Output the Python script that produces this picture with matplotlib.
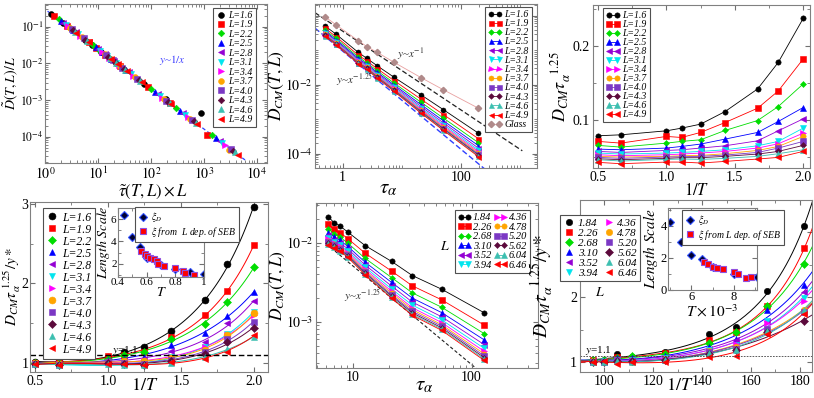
import numpy as np
import matplotlib
matplotlib.use('Agg')
import matplotlib.pyplot as plt
from matplotlib.ticker import (FixedLocator, FuncFormatter, LogLocator,
                               MultipleLocator, NullFormatter)

plt.rcParams['font.family'] = ['Liberation Serif', 'DejaVu Serif']
plt.rcParams['mathtext.fontset'] = 'stix'
for a in ('xtick', 'ytick'):
    plt.rcParams[a + '.direction'] = 'in'
    plt.rcParams[a + '.color'] = '#707070'
    plt.rcParams[a + '.labelcolor'] = 'black'
    plt.rcParams[a + '.labelsize'] = 10
    plt.rcParams[a + '.major.pad'] = 2
plt.rcParams['xtick.top'] = True
plt.rcParams['ytick.right'] = True
plt.rcParams['axes.edgecolor'] = '#808080'

# ---------------- data ----------------
L_a = ['1.6', '1.9', '2.2', '2.5', '2.8', '3.1', '3.4', '3.7', '4.0', '4.3', '4.6', '4.9']
L_b = ['1.84', '2.26', '2.68', '3.10', '3.52', '3.94', '4.36', '4.78', '5.20', '5.62', '6.04', '6.46']
colors = ['#000000', '#ff0000', '#00dd00', '#0000ff', '#9400d3', '#00e5ee',
          '#ff00ff', '#ffa500', '#7b38c4', '#5c0a3c', '#3cbfb0', '#ff0000']
markers = ['o', 's', 'D', '^', '<', 'v', '>', 'o', 's', 'D', '^', '<']

# panel 1: scaled collapse
p1_x = [
    [1.3, 2.2, 5.8, 7.7, 11.5, 22, 75, 190, 900],
    [1.5, 2.6, 6.8, 9.1, 13.7, 26, 88, 230, 1150],
    [1.8, 3.0, 7.9, 10.6, 15.8, 30, 100, 300, 1450],
    [2.0, 3.4, 9.0, 12, 18, 34, 120, 350, 1700],
    [2.2, 3.8, 10, 13.4, 20, 38, 135, 400, 2000],
    [2.5, 4.2, 11, 15, 22, 42, 150, 450, 2200],
    [2.7, 4.6, 12, 16.3, 24.5, 46, 165, 500, 2500],
    [3.0, 5.0, 13.3, 17.8, 26.6, 50, 180, 560, 3000],
    [3.2, 5.4, 14.4, 19, 29, 55, 195, 600, 3200],
    [3.4, 5.8, 15.5, 20.6, 31, 59, 210, 650, 3500],
    [3.7, 6.3, 16.6, 22, 33, 63, 225, 700, 3900],
    [3.9, 6.7, 17.6, 23.5, 35, 67, 240, 750, 4400],
]
p1_y = [
    [0.227, 0.128, 0.0445, 0.0327, 0.0211, 0.0104, 0.00273, 0.00107, 0.000437],
    [0.194, 0.107, 0.0373, 0.0272, 0.0174, 0.00867, 0.0023, 0.00083, 0.000112],
    [0.159, 0.0912, 0.0317, 0.0231, 0.0149, 0.00741, 0.002, 0.000603, 0.000108],
    [0.142, 0.0796, 0.0275, 0.0201, 0.0129, 0.00647, 0.00164, 0.000509, 9.1e-5],
    [0.128, 0.0705, 0.0245, 0.0179, 0.0115, 0.00573, 0.00144, 0.00044, 7.6e-5],
    [0.111, 0.0632, 0.0221, 0.0158, 0.0104, 0.00514, 0.00128, 0.000387, 6.9e-5],
    [0.102, 0.0571, 0.0201, 0.0144, 0.00925, 0.00465, 0.00116, 0.000345, 6.0e-5],
    [0.0912, 0.0522, 0.018, 0.0131, 0.00845, 0.00425, 0.00105, 0.000305, 4.2e-5],
    [0.0851, 0.0481, 0.0165, 0.0122, 0.00769, 0.00383, 0.00096, 0.000283, 4.6e-5],
    [0.0796, 0.0445, 0.0152, 0.0112, 0.00716, 0.00355, 0.00089, 0.00026, 4.1e-5],
    [0.0726, 0.0406, 0.0141, 0.0104, 0.00667, 0.0033, 0.00082, 0.000239, 3.7e-5],
    [0.0686, 0.038, 0.0132, 0.00968, 0.00627, 0.00309, 0.00077, 0.000222, 3.2e-5],
]

# panel 2: D_CM vs tau_alpha
tau2 = [0.50, 0.77, 1.84, 2.55, 3.86, 7.4, 21.2, 50.7, 199]
p2_D = [
    [0.513, 0.295, 0.087, 0.0589, 0.0355, 0.0166, 0.00513, 0.00191, 0.000398],
    [0.439, 0.249, 0.0728, 0.0497, 0.0292, 0.0133, 0.00385, 0.00138, 0.000275],
    [0.392, 0.221, 0.064, 0.0439, 0.0254, 0.0113, 0.00313, 0.00109, 0.000211],
    [0.359, 0.201, 0.0581, 0.04, 0.0228, 0.0100, 0.00267, 0.000912, 0.000173],
    [0.335, 0.187, 0.0537, 0.0371, 0.0209, 0.0091, 0.00236, 0.000791, 0.000147],
    [0.318, 0.177, 0.0505, 0.035, 0.0196, 0.0084, 0.00213, 0.000706, 0.000129],
    [0.303, 0.168, 0.048, 0.0333, 0.0185, 0.0079, 0.00196, 0.000643, 0.000116],
    [0.292, 0.162, 0.0459, 0.0319, 0.0177, 0.0075, 0.00183, 0.000594, 0.000106],
    [0.283, 0.156, 0.0443, 0.0308, 0.0169, 0.0072, 0.00173, 0.000556, 9.86e-5],
    [0.275, 0.152, 0.0429, 0.0299, 0.0164, 0.0069, 0.00164, 0.000526, 9.25e-5],
    [0.269, 0.148, 0.0418, 0.0292, 0.0159, 0.0067, 0.00157, 0.0005, 8.75e-5],
    [0.263, 0.145, 0.0407, 0.0285, 0.0155, 0.0065, 0.00151, 0.000479, 8.32e-5],
]
glass_D = [0.95, 0.55, 0.19, 0.129, 0.087, 0.045, 0.0162, 0.0072, 0.0021]

# panel 3 / panel 4: vs 1/T
invT = [0.5, 0.667, 1.0, 1.111, 1.25, 1.429, 1.667, 1.818, 2.0]
p3_y = [
    [0.0785, 0.0798, 0.0852, 0.0888, 0.0942, 0.1112, 0.1417, 0.1776, 0.2368],
    [0.0709, 0.0686, 0.0776, 0.0762, 0.0830, 0.0964, 0.1157, 0.139, 0.1821],
    [0.0655, 0.0632, 0.0686, 0.0709, 0.0731, 0.0857, 0.0991, 0.118, 0.1484],
    [0.0605, 0.0596, 0.0619, 0.0641, 0.0673, 0.074, 0.083, 0.0978, 0.1166],
    [0.0574, 0.056, 0.0587, 0.0596, 0.0619, 0.065, 0.0717, 0.0852, 0.1013],
    [0.0552, 0.0538, 0.0552, 0.056, 0.0574, 0.0596, 0.065, 0.0709, 0.0888],
    [0.0529, 0.0516, 0.0529, 0.0538, 0.0552, 0.0574, 0.0619, 0.0677, 0.082],
    [0.0507, 0.0498, 0.0507, 0.0516, 0.052, 0.0543, 0.0587, 0.0641, 0.0776],
    [0.0493, 0.048, 0.0498, 0.0502, 0.0507, 0.0525, 0.056, 0.0619, 0.0709],
    [0.0475, 0.0462, 0.048, 0.0489, 0.0489, 0.0507, 0.0538, 0.0574, 0.0655],
    [0.0462, 0.0444, 0.0466, 0.0471, 0.0466, 0.048, 0.0507, 0.0543, 0.0596],
    [0.0426, 0.0408, 0.043, 0.043, 0.0417, 0.0439, 0.0471, 0.0493, 0.0574],
]
p4_y = [
    [1.007, 1.02, 1.07, 1.134, 1.197, 1.40, 1.796, 2.24, 2.97],
    [0.999, 1.007, 1.079, 1.1, 1.134, 1.324, 1.606, 1.90, 2.49],
    [0.995, 0.999, 1.049, 1.092, 1.134, 1.294, 1.492, 1.767, 2.21],
    [0.995, 0.999, 1.037, 1.049, 1.07, 1.227, 1.378, 1.589, 1.893],
    [0.986, 0.986, 1.02, 1.028, 1.049, 1.142, 1.26, 1.5, 1.775],
    [0.986, 0.973, 0.986, 0.965, 0.973, 1.07, 1.197, 1.366, 1.64],
    [0.986, 0.978, 1.007, 1.007, 1.02, 1.07, 1.197, 1.353, 1.598],
    [0.995, 0.986, 1.007, 1.02, 1.02, 1.062, 1.155, 1.345, 1.62],
    [0.986, 0.973, 1.007, 0.999, 0.986, 1.028, 1.134, 1.302, 1.513],
    [0.986, 0.973, 0.999, 0.986, 0.973, 1.02, 1.113, 1.26, 1.438],
    [0.986, 0.965, 0.986, 0.965, 0.973, 0.999, 1.07, 1.176, 1.324],
    [0.986, 0.965, 0.986, 0.986, 0.965, 1.007, 1.049, 1.134, 1.353],
]
ins4_T_D = [0.44, 0.5, 0.55, 0.6, 0.7, 0.8, 0.9, 1.0]
ins4_xi_D = [6.4, 4.4, 3.5, 2.5, 1.9, 1.5, 1.25, 1.05]
ins4_T_S = [0.56, 0.59, 0.6, 0.62, 0.65, 0.67, 0.68, 0.72, 0.8, 0.85, 0.87, 0.93]
ins4_xi_S = [3.1, 2.9, 2.7, 2.5, 2.4, 2.2, 2.0, 1.75, 1.6, 1.35, 1.2, 1.0]

# panel 5
tau5 = [6.24, 6.96, 7.82, 9.07, 12.7, 21.2, 31.7, 56.0, 128]
p5_D = [
    [0.0213, 0.0180, 0.01633, 0.01371, 0.00925, 0.00583, 0.00386, 0.00259, 0.0013],
    [0.01726, 0.01486, 0.01349, 0.01132, 0.00741, 0.0044, 0.00286, 0.0019, 0.000908],
    [0.01496, 0.01303, 0.01183, 0.00993, 0.00637, 0.00364, 0.00233, 0.00153, 0.000708],
    [0.01346, 0.01186, 0.01076, 0.00902, 0.00569, 0.00316, 0.002, 0.00131, 0.00059],
    [0.01245, 0.01102, 0.0100, 0.0084, 0.00524, 0.00284, 0.00178, 0.00116, 0.000514],
    [0.01167, 0.0104, 0.00944, 0.00793, 0.0049, 0.00261, 0.00163, 0.00106, 0.000461],
    [0.01109, 0.00993, 0.00902, 0.00755, 0.00463, 0.00244, 0.00151, 0.00098, 0.000423],
    [0.01064, 0.00955, 0.00867, 0.00726, 0.00444, 0.00231, 0.00143, 0.00092, 0.000393],
    [0.01028, 0.00927, 0.00841, 0.00705, 0.00428, 0.0022, 0.00136, 0.00088, 0.00037],
    [0.00998, 0.00902, 0.00818, 0.00685, 0.00414, 0.00212, 0.0013, 0.00084, 0.000352],
    [0.00973, 0.00881, 0.008, 0.0067, 0.00403, 0.00205, 0.00125, 0.00081, 0.000337],
    [0.0095, 0.00863, 0.00783, 0.00656, 0.00394, 0.00199, 0.00121, 0.00078, 0.000324],
]

# panel 6
invT6 = [95.2, 100, 105.3, 111.1, 125, 142.9, 153.8, 166.7, 181.8]
p6_y = [
    [1.04, 1.03, 1.12, 1.08, 1.16, 1.43, 1.55, 2.10, 3.10],
    [1.03, 1.02, 1.08, 1.07, 1.14, 1.34, 1.46, 1.86, 2.76],
    [1.03, 1.03, 1.07, 1.09, 1.12, 1.29, 1.46, 1.87, 2.52],
    [1.02, 1.02, 1.06, 1.06, 1.10, 1.24, 1.36, 1.80, 2.19],
    [1.02, 1.01, 1.05, 1.05, 1.08, 1.21, 1.34, 1.64, 2.08],
    [1.01, 1.02, 1.04, 1.03, 1.07, 1.19, 1.26, 1.63, 1.99],
    [1.01, 1.01, 1.03, 1.04, 1.06, 1.18, 1.28, 1.61, 1.95],
    [1.02, 1.00, 1.02, 1.00, 1.05, 1.17, 1.23, 1.50, 1.81],
    [1.01, 1.01, 1.03, 1.02, 1.04, 1.16, 1.21, 1.51, 1.78],
    [1.00, 1.01, 1.02, 1.02, 1.03, 1.13, 1.19, 1.46, 1.63],
    [1.01, 1.00, 1.02, 1.01, 1.03, 1.14, 1.19, 1.48, 1.81],
    [1.00, 1.02, 0.98, 1.00, 1.01, 1.08, 1.09, 1.43, 1.74],
]
ins6_T_D = [5.0, 5.5, 6.0, 6.5, 7.0, 8.0, 9.1]
ins6_xi_D = [4.2, 3.0, 2.2, 1.9, 1.45, 1.0, 0.8]
ins6_T_S = [6.6, 6.8, 7.0, 7.2, 7.5, 8.0, 8.2, 8.6, 8.8]
ins6_xi_S = [1.75, 1.6, 1.45, 1.35, 1.3, 1.1, 0.97, 0.72, 0.82]

# ---------------- helpers ----------------
W, H = 814, 398
fig = plt.figure(figsize=(W / 100, H / 100), dpi=100)


def add_ax(l, t, r, b):
    return fig.add_axes([l / W, 1 - b / H, (r - l) / W, (b - t) / H])


def sty(i, ms, line=False):
    m = markers[i]
    s = ms * 0.8 if m == 'D' else ms
    d = dict(marker=m, color=colors[i], ms=s, mec=colors[i], mew=0.4)
    if line:
        d.update(lw=0.6)
    else:
        d.update(ls='none')
    return d


def leg(ax, x, y, fs, **kw):
    opts = dict(loc='upper left', bbox_to_anchor=(x / W, 1 - y / H),
                bbox_transform=fig.transFigure, borderaxespad=0,
                frameon=True, fancybox=False, framealpha=1,
                edgecolor='#505050', prop={'style': 'italic', 'size': fs},
                borderpad=0.3, handletextpad=0.3)
    opts.update(kw)
    lg = ax.legend(**opts)
    lg.get_frame().set_linewidth(0.8)
    lg.set_zorder(10)
    return lg


def pow10(show=None):
    def f(v, pos):
        e = int(round(np.log10(v)))
        if show is not None and e not in show:
            return ''
        return r'$10^{%d}$' % e
    return FuncFormatter(f)


def fit_curve(x, y, xs, deg=3):
    p = np.polyfit(x, np.log(y), deg)
    return np.exp(np.polyval(p, xs))


def labels(ax, xl, yl, xs, ys, xpos, ypos):
    ax.set_xlabel(xl, fontsize=xs)
    ax.set_ylabel(yl, fontsize=ys)
    ax.xaxis.set_label_coords(*xpos)
    ax.yaxis.set_label_coords(*ypos)


# ---------------- panel 1 ----------------
ax1 = add_ax(45, 4, 267, 163)
ax1.set_xscale('log'); ax1.set_yscale('log')
xr = np.logspace(np.log10(0.9), np.log10(6000), 60)
ax1.plot(xr, 0.302 * xr ** -1.09, ls=(0, (3, 2)), color='#3040ff', lw=0.9, zorder=1)
for i in range(12):
    ax1.plot(p1_x[i], p1_y[i], label='L=' + L_a[i], **sty(i, 4.2))
ax1.set_xlim(1, 1.56e4); ax1.set_ylim(1.9e-5, 0.42)
ax1.xaxis.set_major_formatter(pow10()); ax1.yaxis.set_major_formatter(pow10())
ax1.tick_params(axis='y', labelsize=8.5, pad=1)
ax1.text(140, 0.0105, r'$y$~$1/x$', color='#4040ff', fontsize=8)
labels(ax1, r'$\tilde{\tau}(T,L)\times L$', r'$\tilde{D}(T,L)/L$', 12, 10,
       (0.487, -0.125), (-0.112, 0.5))
leg(ax1, 213, 8, 7, numpoints=1, labelspacing=0.05, handlelength=1.0)

# ---------------- panel 2 ----------------
ax2 = add_ax(315, 4, 537, 168)
ax2.set_xscale('log'); ax2.set_yscale('log')
for i in range(12):
    ax2.plot(tau2, p2_D[i], label='L=' + L_a[i], **sty(i, 3.6, line=True))
ax2.plot(tau2, glass_D, marker='D', color='#e8a0a0', ms=3.2, lw=0.6,
         mfc='#b08a8a', mec='#b08a8a', label='Glass')
xa = np.logspace(np.log10(0.34), np.log10(1100), 60)
ax2.plot(xa, 0.36 * xa ** -1.14, ls=(0, (4, 2)), color='#202020', lw=0.9, zorder=1)
xb = np.logspace(np.log10(0.34), np.log10(400), 60)
ax2.plot(xb, 0.095 * xb ** -1.42, ls=(0, (4, 2)), color='#3040ff', lw=1.0, zorder=1)
ax2.set_xlim(0.34, 1950); ax2.set_ylim(3.9e-5, 2.2)
ax2.xaxis.set_major_locator(FixedLocator([1, 100]))
ax2.xaxis.set_major_formatter(FuncFormatter(lambda v, p: '%g' % v))
ax2.xaxis.set_minor_locator(LogLocator(base=10, subs=np.arange(1, 10), numticks=20))
ax2.xaxis.set_minor_formatter(NullFormatter())
ax2.yaxis.set_major_locator(FixedLocator([1e-4, 1e-2, 1]))
ax2.yaxis.set_major_formatter(pow10([-2, -4]))
ax2.yaxis.set_minor_locator(LogLocator(base=10, subs=np.arange(1, 10), numticks=20))
ax2.yaxis.set_minor_formatter(NullFormatter())
ax2.text(8.3, 0.062, r'$y$~$x^{-1}$', fontsize=8, color='#303030')
ax2.text(0.78, 0.011, r'$y$~$x^{-1.25}$', fontsize=8, color='#303030')
labels(ax2, r'$\tau_\alpha$', r'$D_{CM}(T,L)$', 15, 12.5, (0.33, -0.07), (-0.132, 0.5))
leg(ax2, 485, 7, 7, numpoints=2, labelspacing=0.02, handlelength=1.4)

# ---------------- panel 3 ----------------
ax3 = add_ax(593, 5, 810, 168)
for i in range(12):
    ax3.plot(invT, p3_y[i], label='L=' + L_a[i], **sty(i, 3.8, line=True))
ax3.set_xlim(0.463, 2.05); ax3.set_ylim(0.035, 0.255)
ax3.xaxis.set_major_locator(MultipleLocator(0.5))
ax3.xaxis.set_major_formatter(FuncFormatter(lambda v, p: '%.1f' % v))
ax3.xaxis.set_minor_locator(MultipleLocator(0.25))
ax3.yaxis.set_major_locator(FixedLocator([0.1, 0.2]))
ax3.yaxis.set_minor_locator(MultipleLocator(0.05))
labels(ax3, r'$1/T$', r'$D_{CM}\tau_\alpha^{\ \ 1.25}$', 12, 13,
       (0.48, -0.095), (-0.09, 0.5))
leg(ax3, 603, 8, 7, numpoints=2, labelspacing=0.0, handlelength=1.4)

# ---------------- panel 4 ----------------
ax4 = add_ax(30, 202, 268, 372)
xs4 = np.linspace(0.5, 2.0, 120)
for i in range(12):
    ax4.plot(xs4, fit_curve(invT, p4_y[i], xs4), color=colors[i], lw=0.7)
for i in range(12):
    ax4.plot(invT, p4_y[i], label='L=' + L_a[i], **sty(i, 5))
ax4.axhline(1.1, color='black', ls=(0, (4, 2)), lw=1.0)
ax4.text(1.03, 1.125, r'$y$=1.1', fontsize=8)
ax4.set_xlim(0.466, 2.096); ax4.set_ylim(0.88, 3.03)
ax4.xaxis.set_major_locator(MultipleLocator(0.5))
ax4.xaxis.set_major_formatter(FuncFormatter(lambda v, p: '%.1f' % v))
ax4.xaxis.set_minor_locator(MultipleLocator(0.25))
ax4.yaxis.set_major_locator(FixedLocator([1, 2, 3]))
ax4.yaxis.set_minor_locator(MultipleLocator(0.5))
ax4.tick_params(axis='y', pad=1)
labels(ax4, r'$1/T$', r'$D_{CM}\tau_\alpha^{\ 1.25}/y*$', 13, 11,
       (0.48, -0.03), (-0.031, 0.5))
leg(ax4, 43, 208, 8.5, numpoints=1, labelspacing=0.0, handlelength=1.0)

in4 = add_ax(118, 208, 204, 277)
in4.plot(ins4_T_D, ins4_xi_D, ls='none', marker='D', ms=4.2, mfc='#000033',
         mec='#3050ff', mew=0.8, label=r'$\xi_D$')
in4.plot(ins4_T_S, ins4_xi_S, ls='none', marker='s', ms=4.5, mfc='#ff0000',
         mec='#9050e0', mew=0.8, label=r'$\xi$ from  L dep. of SEB')
in4.set_xlim(0.4, 1.0); in4.set_ylim(0.8, 7.0)
in4.xaxis.set_major_locator(FixedLocator([0.4, 0.6, 0.8, 1.0]))
in4.xaxis.set_major_formatter(FuncFormatter(lambda v, p: '%g' % v))
in4.yaxis.set_major_locator(FixedLocator([2, 4, 6]))
in4.xaxis.set_minor_locator(MultipleLocator(0.1))
in4.yaxis.set_minor_locator(MultipleLocator(1))
in4.tick_params(labelsize=8, pad=1)
in4.set_xlabel(r'$T$', fontsize=10, labelpad=-1)
in4.set_ylabel(r'$Length\ Scale$', fontsize=10, labelpad=-1)
leg(in4, 135, 207, 7, numpoints=1, labelspacing=0.1, handlelength=1.0)

# ---------------- panel 5 ----------------
ax5 = add_ax(316, 203, 538, 368)
ax5.set_xscale('log'); ax5.set_yscale('log')
xc = np.logspace(np.log10(6), np.log10(250), 60)
ax5.plot(xc, 0.091 * xc ** -1.25, ls=(0, (3, 2)), color='#202020', lw=0.8, zorder=1)
for i in range(12):
    ax5.plot(tau5, p5_D[i], label=L_b[i], **sty(i, 3.8, line=True))
ax5.set_xlim(4.9, 363); ax5.set_ylim(2.6e-4, 3.2e-2)
ax5.xaxis.set_major_locator(FixedLocator([10, 100]))
ax5.xaxis.set_major_formatter(FuncFormatter(lambda v, p: '%g' % v))
ax5.xaxis.set_minor_locator(LogLocator(base=10, subs=np.arange(1, 10), numticks=20))
ax5.xaxis.set_minor_formatter(NullFormatter())
ax5.yaxis.set_major_locator(FixedLocator([1e-3, 1e-2]))
ax5.yaxis.set_major_formatter(pow10())
ax5.yaxis.set_minor_locator(LogLocator(base=10, subs=np.arange(1, 10), numticks=20))
ax5.yaxis.set_minor_formatter(NullFormatter())
ax5.text(8.4, 0.0019, r'$y$~$x^{-1.25}$', fontsize=8, color='#303030')
labels(ax5, r'$\tau_\alpha$', r'$D_{CM}(T,L)$', 15, 12.5, (0.49, -0.05), (-0.132, 0.5))
leg(ax5, 455, 210, 7.5, numpoints=2, ncol=2, labelspacing=0.02, handlelength=1.2,
    columnspacing=0.3, handletextpad=0.2)
fig.text(445 / W, 1 - 247 / H, r'$L$', fontsize=10, ha='center', va='center')

# ---------------- panel 6 ----------------
ax6 = add_ax(580, 200, 812, 372)
xs6 = np.linspace(90, 186, 150)
for i in range(12):
    ax6.plot(xs6, fit_curve(invT6, p6_y[i], xs6), color=colors[i], lw=0.7)
for i in range(12):
    ax6.plot(invT6, p6_y[i], label=L_b[i], **sty(i, 4.6))
ax6.axhline(1.1, color='#404040', ls=(0, (2, 1.5)), lw=0.6)
ax6.text(92, 1.14, r'$y$=1.1', fontsize=8)
ax6.set_xlim(90, 185); ax6.set_ylim(0.85, 3.5)
ax6.xaxis.set_major_locator(MultipleLocator(20))
ax6.xaxis.set_minor_locator(MultipleLocator(10))
ax6.yaxis.set_major_locator(FixedLocator([1, 2, 3]))
ax6.yaxis.set_minor_locator(MultipleLocator(0.5))
labels(ax6, r'$1/T$', r'$D_{CM}\tau_\alpha^{\ \ 1.25}/y*$', 13, 14,
       (0.43, -0.03), (-0.105, 0.5))
leg(ax6, 560, 215, 8, numpoints=1, ncol=2, labelspacing=0.02, handlelength=1.0,
    columnspacing=0.5)
fig.text(600 / W, 1 - 292 / H, r'$L$', fontsize=10, ha='center', va='center')

in6 = add_ax(668, 208, 757, 290)
in6.plot(ins6_T_D, ins6_xi_D, ls='none', marker='D', ms=4.2, mfc='#000033',
         mec='#3050ff', mew=0.8, label=r'$\xi_D$')
in6.plot(ins6_T_S, ins6_xi_S, ls='none', marker='s', ms=4.5, mfc='#ff0000',
         mec='#9050e0', mew=0.8, label=r'$\xi$ from L dep. of SEB')
in6.set_xlim(4.9, 9.1); in6.set_ylim(0, 5.1)
in6.xaxis.set_major_locator(FixedLocator([6, 8]))
in6.yaxis.set_major_locator(FixedLocator([0, 2, 4]))
in6.xaxis.set_minor_locator(MultipleLocator(1))
in6.yaxis.set_minor_locator(MultipleLocator(1))
in6.tick_params(labelsize=9, pad=1)
in6.set_xlabel(r'$T\times10^{-3}$', fontsize=11, labelpad=0)
in6.set_ylabel(r'$Length\ Scale$', fontsize=11, labelpad=0)
leg(in6, 682, 210, 7, numpoints=1, labelspacing=0.1, handlelength=1.0)

fig.savefig('out.png', dpi=100)
